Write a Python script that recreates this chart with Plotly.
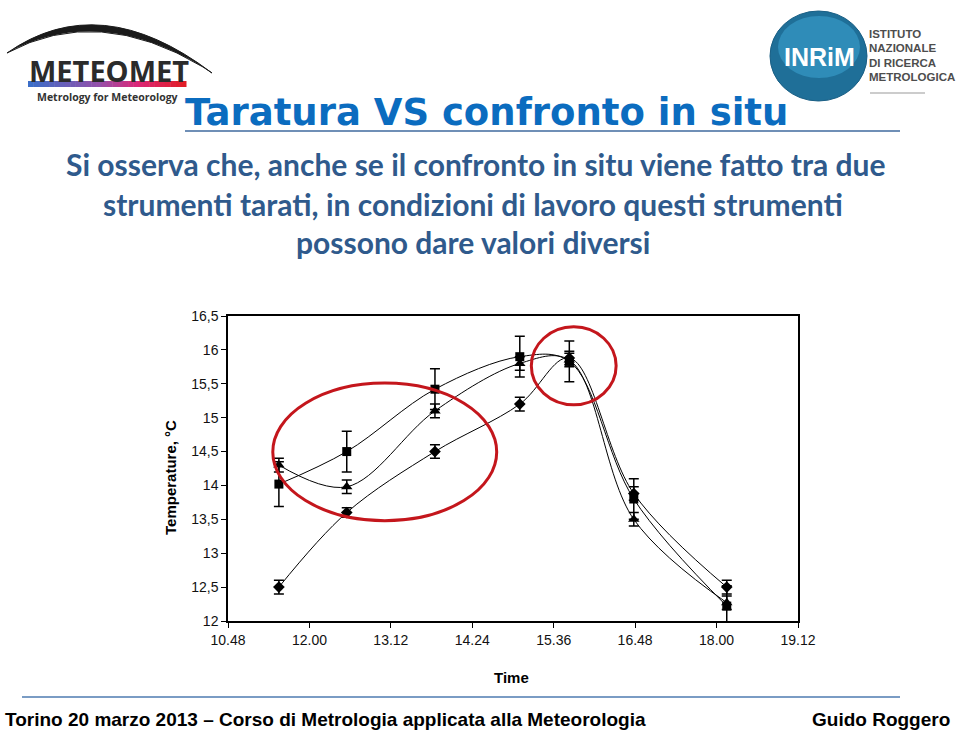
import plotly.graph_objects as go

# ---------------- data ----------------
time_h = [11.55, 12.55, 13.85, 15.10, 15.83, 16.78, 18.15]
diamond_vals = [12.50, 13.60, 14.50, 15.20, 15.88, 13.88, 12.50]
square_vals = [14.02, 14.50, 15.42, 15.90, 15.83, 13.80, 12.22]
triangle_vals = [14.30, 13.98, 15.10, 15.80, 15.85, 13.50, 12.27]
diamond_err = [0.1, 0.07, 0.1, 0.1, 0.1, 0.1, 0.1]
square_err = [0.33, 0.3, 0.3, 0.3, 0.3, 0.3, 0.3]
triangle_err = [0.1, 0.1, 0.1, 0.1, 0.1, 0.1, 0.1]

x_tickvals = [10.8, 12.0, 13.2, 14.4, 15.6, 16.8, 18.0, 19.2]
x_ticktext = ["10.48", "12.00", "13.12", "14.24", "15.36", "16.48", "18.00", "19.12"]
y_tickvals = [12, 12.5, 13, 13.5, 14, 14.5, 15, 15.5, 16, 16.5]
y_ticktext = ["12", "12,5", "13", "13,5", "14", "14,5", "15", "15,5", "16", "16,5"]

W, H = 960, 731


def px(x):
    return x / W


def py(y):
    return 1 - y / H


fig = go.Figure()

for vals, err, sym in [(diamond_vals, diamond_err, "diamond"),
                       (square_vals, square_err, "square"),
                       (triangle_vals, triangle_err, "triangle-up")]:
    fig.add_trace(go.Scatter(
        x=time_h, y=vals, mode="lines+markers",
        line=dict(color="black", width=1, shape="spline", smoothing=1),
        marker=dict(symbol=sym, size=9 if sym != "triangle-up" else 10, color="black"),
        error_y=dict(type="data", array=err, visible=True, color="black",
                     thickness=1.5, width=5),
        showlegend=False, cliponaxis=False,
    ))

shapes = []
# red ellipses
shapes.append(dict(type="circle", xref="x", yref="y", x0=11.46, x1=14.76, y0=13.48, y1=15.51,
                   line=dict(color="#c4161c", width=3)))
shapes.append(dict(type="circle", xref="x", yref="y", x0=15.27, x1=16.52, y0=15.19, y1=16.34,
                   line=dict(color="#c4161c", width=3)))

# title underline and footer line
shapes.append(dict(type="line", xref="paper", yref="paper", x0=px(185), x1=px(900), y0=py(131), y1=py(131),
                   line=dict(color="#6f8fb6", width=2)))
shapes.append(dict(type="line", xref="paper", yref="paper", x0=px(22), x1=px(900), y0=py(697), y1=py(697),
                   line=dict(color="#7a9cc4", width=2)))


def path(points_cmds):
    s = ""
    for cmd, pts in points_cmds:
        s += cmd + " " + " ".join(f"{px(a):.5f},{py(b):.5f}" for a, b in pts) + " "
    return s + "Z"


# METEOMET swoosh
shapes.append(dict(type="path", xref="paper", yref="paper",
                   path=path([("M", [(7, 53)]), ("Q", [(100, -12), (212, 73)]),
                              ("L", [(203, 67)]),
                              ("Q", [(98, 4), (7, 53)])]),
                   fillcolor="#1a1a1a", line=dict(color="#1a1a1a", width=1)))
# gradient bar
stops = [(0.0, (60, 110, 200)), (0.45, (150, 80, 170)), (0.7, (220, 40, 120)), (1.0, (225, 30, 40))]


def grad(t):
    for i in range(len(stops) - 1):
        t0, c0 = stops[i]
        t1, c1 = stops[i + 1]
        if t0 <= t <= t1:
            f = (t - t0) / (t1 - t0)
            return "rgb(%d,%d,%d)" % tuple(int(c0[k] + f * (c1[k] - c0[k])) for k in range(3))
    return "rgb(225,30,40)"


n = 30
x0b, x1b = 28, 186
for i in range(n):
    a = x0b + (x1b - x0b) * i / n
    b = x0b + (x1b - x0b) * (i + 1) / n + 0.5
    shapes.append(dict(type="rect", xref="paper", yref="paper", x0=px(a), x1=px(b), y0=py(87), y1=py(81),
                       fillcolor=grad(i / (n - 1)), line=dict(width=0)))

# INRiM blob
shapes.append(dict(type="circle", xref="paper", yref="paper", x0=px(770), x1=px(867), y0=py(101), y1=py(11),
                   fillcolor="#1f6f98", line=dict(color="#1a5f85", width=1)))
shapes.append(dict(type="circle", xref="paper", yref="paper", x0=px(778), x1=px(860), y0=py(78), y1=py(16),
                   fillcolor="#2f8cb8", line=dict(width=0)))
# small ruler under INRiM text
shapes.append(dict(type="line", xref="paper", yref="paper", x0=px(870), x1=px(925), y0=py(93), y1=py(93),
                   line=dict(color="#999999", width=1)))

annotations = []


def txt(x, y, text, size, color, family="Liberation Sans, Arial", xanchor="center", bold=False, angle=0):
    t = f"<b>{text}</b>" if bold else text
    annotations.append(dict(x=px(x), y=py(y), xref="paper", yref="paper", text=t, showarrow=False,
                            xanchor=xanchor, yanchor="middle", textangle=angle, borderpad=0,
                            font=dict(size=size, color=color, family=family)))


# logos text
txt(109, 70, "METEOMET", 29, "#2b2b2b", family="Open Sans, Liberation Sans", bold=True)
txt(107, 97, "Metrology for Meteorology", 10.5, "#333333", family="Open Sans, Liberation Sans", bold=True)
txt(819, 57, "INRiM", 25, "white", family="Liberation Sans, Arial", bold=True)
for i, line in enumerate(["ISTITUTO", "NAZIONALE", "DI RICERCA", "METROLOGICA"]):
    txt(868, 34 + i * 14.3, line, 11.5, "#4d4d4d", family="Liberation Sans, Arial",
        xanchor="left", bold=True)

# title and body
txt(486, 112, "Taratura VS confronto in situ", 37, "#0b6cbf", family="DejaVu Sans, Liberation Sans", bold=True)
body_col = "#2f5a8c"
txt(475, 164, "Si osserva che, anche se il confronto in situ viene fatto tra due", 30, body_col,
    family="Lato, Open Sans", bold=True)
txt(473, 204, "strumenti tarati, in condizioni di lavoro questi strumenti", 30, body_col,
    family="Lato, Open Sans", bold=True)
txt(473, 242, "possono dare valori diversi", 30, body_col, family="Lato, Open Sans", bold=True)

# axis titles
txt(511, 677, "Time", 15, "black", bold=True)
txt(170, 478, "Temperature, °C", 15, "black", bold=True, angle=-90)

# footer
txt(4, 719, "Torino 20 marzo 2013 – Corso di Metrologia applicata alla Meteorologia", 19, "black",
    family="Liberation Sans, Arial", xanchor="left", bold=True)
txt(951, 719, "Guido Roggero", 19, "black",
    family="Liberation Sans, Arial", xanchor="right", bold=True)

fig.update_layout(
    width=W, height=H,
    margin=dict(l=0, r=0, t=0, b=0, autoexpand=False),
    paper_bgcolor="white", plot_bgcolor="white",
    shapes=shapes, annotations=annotations,
    xaxis=dict(domain=[px(228), px(798)], range=[10.8, 19.2], tickvals=x_tickvals, ticktext=x_ticktext,
               showgrid=False, zeroline=False, showline=True, linecolor="black", linewidth=1.5, mirror=True,
               ticks="outside", ticklen=5, tickcolor="black", automargin=False,
               tickfont=dict(size=14, color="#111111", family="Liberation Sans, Arial")),
    yaxis=dict(domain=[py(621), py(316)], range=[12, 16.5], tickvals=y_tickvals, ticktext=y_ticktext,
               showgrid=False, zeroline=False, showline=True, linecolor="black", linewidth=1.5, mirror=True,
               ticks="outside", ticklen=5, tickcolor="black", automargin=False,
               tickfont=dict(size=14, color="#111111", family="Liberation Sans, Arial")),
)

fig.write_html("out.html", config={"displayModeBar": False},
               post_script="document.body.style.margin='0px';")
